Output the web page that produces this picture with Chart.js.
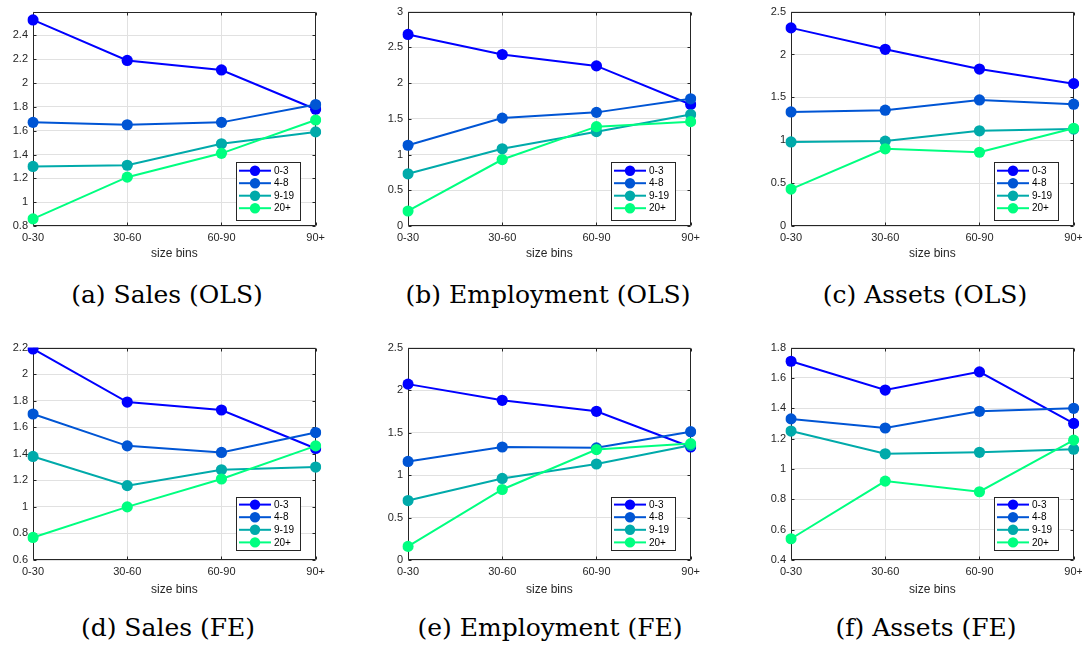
<!DOCTYPE html>
<html>
<head>
<meta charset="utf-8">
<script src="https://cdn.jsdelivr.net/npm/chart.js@4.4.1/dist/chart.umd.min.js"></script>
<style>
  html, body { margin: 0; padding: 0; background: #fff; width: 1082px; height: 649px; overflow: hidden; position: relative; }
  canvas.panel { position: absolute; }
  .cap { position: absolute; width: 360px; height: 30px; line-height: 30px; text-align: center; white-space: nowrap;
         font-family: "DejaVu Serif", "Liberation Serif", serif; font-size: 25px; color: #000; }
</style>
</head>
<body>
<canvas class="panel" id="pa" width="330" height="262" style="left:0px;top:0px"></canvas>
<canvas class="panel" id="pb" width="330" height="262" style="left:375px;top:0px"></canvas>
<canvas class="panel" id="pc" width="330" height="262" style="left:758px;top:0px"></canvas>
<canvas class="panel" id="pd" width="330" height="262" style="left:0px;top:336px"></canvas>
<canvas class="panel" id="pe" width="330" height="262" style="left:375px;top:336px"></canvas>
<canvas class="panel" id="pf" width="330" height="262" style="left:758px;top:336px"></canvas>

<div class="cap" style="left:-13px;top:280px">(a) Sales (OLS)</div>
<div class="cap" style="left:368px;top:280px">(b) Employment (OLS)</div>
<div class="cap" style="left:745px;top:280px">(c) Assets (OLS)</div>
<div class="cap" style="left:-12px;top:613px">(d) Sales (FE)</div>
<div class="cap" style="left:370px;top:613px">(e) Employment (FE)</div>
<div class="cap" style="left:746px;top:613px">(f) Assets (FE)</div>

<script>
// Firm-size bins on the x axis and the age groups drawn as series
const sizeBins = ['0-30', '30-60', '60-90', '90+'];
const groupLabels = ['0-3', '4-8', '9-19', '20+'];
const groupColors = ['#0000ff', '#0055d4', '#00aaaa', '#00ff80'];

// Coefficients per age group (rows follow groupLabels, columns follow sizeBins)
const salesOLS = [
  [2.53, 2.19, 2.11, 1.78],
  [1.67, 1.65, 1.67, 1.82],
  [1.30, 1.31, 1.49, 1.59],
  [0.86, 1.21, 1.41, 1.69]
];
const employmentOLS = [
  [2.68, 2.40, 2.24, 1.70],
  [1.13, 1.51, 1.59, 1.78],
  [0.73, 1.08, 1.32, 1.56],
  [0.21, 0.93, 1.39, 1.46]
];
const assetsOLS = [
  [2.31, 2.06, 1.83, 1.66],
  [1.33, 1.35, 1.47, 1.42],
  [0.98, 0.99, 1.11, 1.13],
  [0.43, 0.90, 0.86, 1.14]
];
const salesFE = [
  [2.19, 1.79, 1.73, 1.44],
  [1.70, 1.46, 1.41, 1.56],
  [1.38, 1.16, 1.28, 1.30],
  [0.77, 1.00, 1.21, 1.46]
];
const employmentFE = [
  [2.07, 1.88, 1.75, 1.33],
  [1.16, 1.33, 1.32, 1.51],
  [0.70, 0.96, 1.13, 1.35],
  [0.16, 0.83, 1.30, 1.37]
];
const assetsFE = [
  [1.71, 1.52, 1.64, 1.30],
  [1.33, 1.27, 1.38, 1.40],
  [1.25, 1.10, 1.11, 1.13],
  [0.54, 0.92, 0.85, 1.19]
];

// Y-axis tick labels and limits for each panel
const salesOLSTicks = [0.8, 1, 1.2, 1.4, 1.6, 1.8, 2, 2.2, 2.4];
const salesOLSRange = [0.8, 2.6];
const employmentOLSTicks = [0, 0.5, 1, 1.5, 2, 2.5, 3];
const employmentOLSRange = [0, 3];
const assetsOLSTicks = [0, 0.5, 1, 1.5, 2, 2.5];
const assetsOLSRange = [0, 2.5];
const salesFETicks = [0.6, 0.8, 1, 1.2, 1.4, 1.6, 1.8, 2, 2.2];
const salesFERange = [0.6, 2.2];
const employmentFETicks = [0, 0.5, 1, 1.5, 2, 2.5];
const employmentFERange = [0, 2.5];
const assetsFETicks = [0.4, 0.6, 0.8, 1, 1.2, 1.4, 1.6, 1.8];
const assetsFERange = [0.4, 1.8];

const AXIS_COLOR = '#262626';
const GRID_COLOR = '#e1e1e1';
const SANS = '"Liberation Sans", Arial, sans-serif';

// Box around the plot area with inward tick marks on all four sides
const framePlugin = {
  id: 'frame',
  beforeDatasetsDraw(chart) {
    const { ctx, chartArea: a, scales: { x, y } } = chart;
    const L = Math.round(a.left) + 0.5, R = Math.round(a.right) - 0.5;
    const T = Math.round(a.top) + 0.5, B = Math.round(a.bottom) - 0.5;
    const len = 3;
    ctx.save();
    ctx.strokeStyle = AXIS_COLOR;
    ctx.lineWidth = 1;
    ctx.beginPath();
    ctx.rect(L, T, R - L, B - T);
    y.ticks.forEach(t => {
      const py = Math.round(y.getPixelForValue(t.value)) + 0.5;
      ctx.moveTo(L, py); ctx.lineTo(L + len, py);
      ctx.moveTo(R, py); ctx.lineTo(R - len, py);
    });
    x.ticks.forEach((t, i) => {
      const px = Math.round(x.getPixelForValue(i)) + 0.5;
      ctx.moveTo(px, B); ctx.lineTo(px, B - len);
      ctx.moveTo(px, T); ctx.lineTo(px, T + len);
    });
    ctx.stroke();
    ctx.restore();
  }
};

// Legend box drawn inside the lower-right corner of the plot area
const insetLegendPlugin = {
  id: 'insetLegend',
  afterDatasetsDraw(chart, args, opts) {
    const { ctx, chartArea: a } = chart;
    const w = 64, h = opts.height;
    const bx = Math.round(a.right - 16 - w);
    const by = Math.round(a.bottom - opts.gap - h);
    ctx.save();
    ctx.fillStyle = '#fff';
    ctx.fillRect(bx, by, w, h);
    ctx.strokeStyle = AXIS_COLOR;
    ctx.lineWidth = 1;
    ctx.strokeRect(bx + 0.5, by + 0.5, w, h);
    ctx.font = '10px ' + SANS;
    ctx.textBaseline = 'middle';
    ctx.textAlign = 'left';
    chart.data.datasets.forEach((ds, i) => {
      const cy = by + opts.first + i * opts.row;
      ctx.strokeStyle = ds.borderColor;
      ctx.lineWidth = 2;
      ctx.beginPath();
      ctx.moveTo(bx + 3, cy);
      ctx.lineTo(bx + 35, cy);
      ctx.stroke();
      ctx.fillStyle = ds.borderColor;
      ctx.beginPath();
      ctx.arc(bx + 19, cy, 5.2, 0, Math.PI * 2);
      ctx.fill();
      ctx.fillStyle = '#000';
      ctx.fillText(ds.label, bx + 38, cy + 0.5);
    });
    ctx.restore();
  }
};

function makePanel(id, series, ticks, range, xHeight, legendOpts) {
  const datasets = series.map((vals, i) => ({
    label: groupLabels[i],
    data: vals,
    borderColor: groupColors[i],
    backgroundColor: groupColors[i],
    pointBackgroundColor: groupColors[i],
    pointBorderColor: groupColors[i],
    pointBorderWidth: 0,
    pointRadius: 5.6,
    borderWidth: 2,
    tension: 0,
    fill: false,
    order: series.length - 1 - i
  }));
  return new Chart(document.getElementById(id), {
    type: 'line',
    data: { labels: sizeBins, datasets },
    options: {
      responsive: false,
      animation: false,
      events: [],
      layout: { padding: { top: 4, right: 12, left: 0, bottom: 0 }, autoPadding: false },
      plugins: {
        legend: { display: false },
        tooltip: { enabled: false },
        insetLegend: legendOpts
      },
      scales: {
        x: {
          type: 'category',
          offset: false,
          border: { display: false },
          grid: { color: GRID_COLOR, lineWidth: 1, drawTicks: false, offset: false },
          ticks: { color: AXIS_COLOR, font: { family: SANS, size: 11 }, padding: 5, maxRotation: 0, autoSkip: false },
          title: { display: true, text: 'size bins', color: AXIS_COLOR, font: { family: SANS, size: 12 }, padding: { top: 0, bottom: 1 } },
          afterFit(scale) { scale.height = xHeight; }
        },
        y: {
          min: range[0],
          max: range[1],
          border: { display: false },
          grid: { color: GRID_COLOR, lineWidth: 1, drawTicks: false },
          afterBuildTicks(scale) { scale.ticks = ticks.map(v => ({ value: v })); },
          ticks: {
            color: AXIS_COLOR,
            font: { family: SANS, size: 11 },
            padding: 5,
            callback: v => String(Math.round(v * 100) / 100)
          },
          afterFit(scale) { scale.width = 33; }
        }
      }
    },
    plugins: [framePlugin, insetLegendPlugin]
  });
}

const topLegend = { height: 58, gap: 6, first: 8.7, row: 12.5 };
const bottomLegend = { height: 53, gap: 10, first: 7.6, row: 12.6 };

makePanel('pa', salesOLS, salesOLSTicks, salesOLSRange, 36, topLegend);
makePanel('pb', employmentOLS, employmentOLSTicks, employmentOLSRange, 36, topLegend);
makePanel('pc', assetsOLS, assetsOLSTicks, assetsOLSRange, 36, topLegend);
makePanel('pd', salesFE, salesFETicks, salesFERange, 38, bottomLegend);
makePanel('pe', employmentFE, employmentFETicks, employmentFERange, 38, bottomLegend);
makePanel('pf', assetsFE, assetsFETicks, assetsFERange, 38, bottomLegend);
</script>
</body>
</html>
